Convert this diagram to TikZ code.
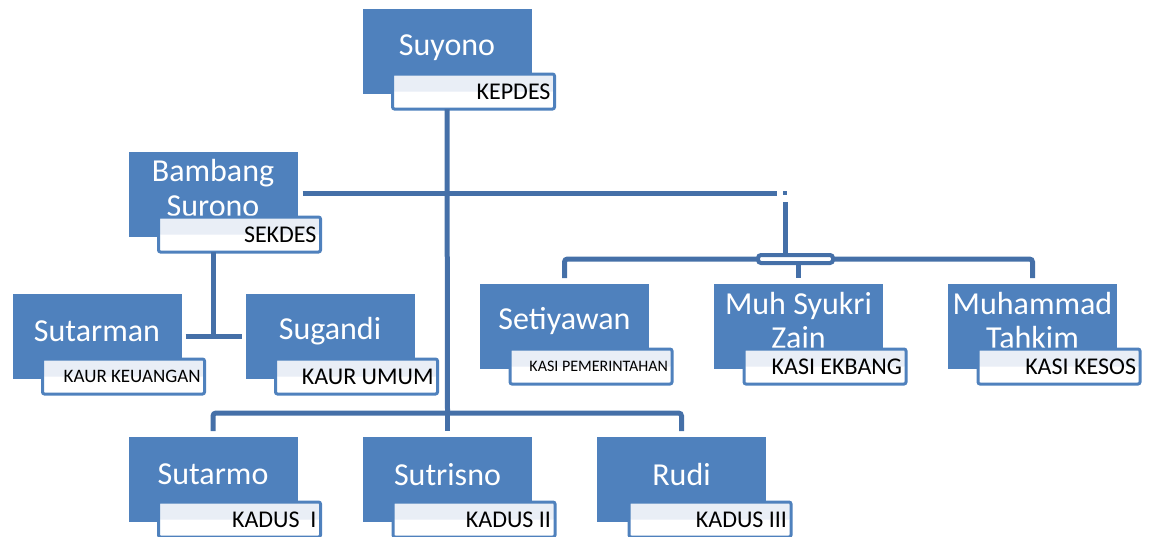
\documentclass[tikz,border=0pt]{standalone}
\usepackage{fontspec}
\setmainfont{Carlito}
\usepackage{tikz}

\definecolor{boxblue}{HTML}{4F81BD}
\definecolor{linkblue}{HTML}{4570A8}
\definecolor{tagtop}{HTML}{E9EEF6}

\tikzset{
    namebox/.style={rectangle, fill=boxblue, minimum width=169pt, minimum height=85pt, inner sep=0pt, outer sep=0pt},
    nametext/.style={text=white, align=center, inner sep=0pt, font=\fontsize{32}{35}\selectfont},
    tagbox/.style={rectangle, draw=boxblue, line width=3pt, rounded corners=2pt, fill=white,
        minimum height=35pt, text width=154pt, inner xsep=4pt, inner ysep=0pt, outer sep=0pt,
        align=flush right, anchor=north west, font=\fontsize{24}{26}\selectfont,
        path picture={\fill[tagtop] (path picture bounding box.north west) rectangle (path picture bounding box.east);}},
    hubbox/.style={rectangle, draw=linkblue, line width=4pt, fill=white, rounded corners=3pt,
        minimum width=75pt, minimum height=8pt, inner sep=0pt, outer sep=0pt},
    link/.style={draw=linkblue, line width=5pt},
}

\begin{document}
\begin{tikzpicture}[x=1pt, y=-1pt]
    \useasboundingbox (0,0) rectangle (1150,536);

    \node[namebox] (kepdes) at (447,51.5) {};
    \node[namebox] (sekdes) at (213,194.5) {};
    \node[namebox] (keuangan) at (97,336.5) {};
    \node[namebox] (umum) at (330,336.5) {};
    \node[namebox] (pemerintahan) at (564.5,326.5) {};
    \node[namebox] (ekbang) at (798.5,326.5) {};
    \node[namebox] (kesos) at (1032.5,326.5) {};
    \node[namebox] (kadusI) at (213,479.5) {};
    \node[namebox] (kadusII) at (447.5,479.5) {};
    \node[namebox] (kadusIII) at (681.5,479.5) {};

    \node[nametext] (kepdes-n) at ([yshift=4pt]kepdes.center) {Suyono};
    \node[nametext] (sekdes-n) at ([yshift=6pt]sekdes.center) {Bambang\\Surono};
    \node[nametext] (keuangan-n) at ([yshift=5pt]keuangan.center) {Sutarman};
    \node[nametext] (umum-n) at ([yshift=5pt]umum.center) {Sugandi};
    \node[nametext] (pemerintahan-n) at ([yshift=5pt]pemerintahan.center) {Setiyawan};
    \node[nametext] (ekbang-n) at ([yshift=6pt]ekbang.center) {Muh Syukri\\Zain};
    \node[nametext] (kesos-n) at ([yshift=6pt]kesos.center) {Muhammad\\Tahkim};
    \node[nametext] (kadusI-n) at ([yshift=5pt]kadusI.center) {Sutarmo};
    \node[nametext] (kadusII-n) at ([yshift=5pt]kadusII.center) {Sutrisno};
    \node[nametext] (kadusIII-n) at ([yshift=5pt]kadusIII.center) {Rudi};

    \node[tagbox] (kepdes-t) at ([xshift=30pt,yshift=-65pt]kepdes.north west) {KEPDES};
    \node[tagbox] (sekdes-t) at ([xshift=30pt,yshift=-65pt]sekdes.north west) {SEKDES};
    \node[tagbox, font=\fontsize{19}{21}\selectfont] (keuangan-t) at ([xshift=30pt,yshift=-65pt]keuangan.north west) {KAUR KEUANGAN};
    \node[tagbox] (umum-t) at ([xshift=30pt,yshift=-65pt]umum.north west) {KAUR UMUM};
    \node[tagbox, font=\fontsize{16}{18}\selectfont] (pemerintahan-t) at ([xshift=30pt,yshift=-65pt]pemerintahan.north west) {KASI PEMERINTAHAN};
    \node[tagbox] (ekbang-t) at ([xshift=30pt,yshift=-65pt]ekbang.north west) {KASI EKBANG};
    \node[tagbox] (kesos-t) at ([xshift=30pt,yshift=-65pt]kesos.north west) {KASI KESOS};
    \node[tagbox] (kadusI-t) at ([xshift=30pt,yshift=-65pt]kadusI.north west) {KADUS\ \ I};
    \node[tagbox] (kadusII-t) at ([xshift=30pt,yshift=-65pt]kadusII.north west) {KADUS II};
    \node[tagbox] (kadusIII-t) at ([xshift=32pt,yshift=-65pt]kadusIII.north west) {KADUS III};

    \node[hubbox] (hub) at (795.5,259) {};
    \coordinate (kbus) at (447.5,413);
    \coordinate (gap) at (785,193);

    \draw[link] (kepdes |- kepdes-t.south) -- (kbus);
    \draw[link, rounded corners=3pt] ([yshift=6pt]kadusI.north) |- (kbus) -| ([yshift=6pt]kadusIII.north);
    \draw[link] (kbus) -- ([yshift=6pt]kadusII.north);

    \draw[link] (sekdes |- sekdes-t.south) -- (sekdes |- keuangan.east);
    \draw[link] ([xshift=4pt]keuangan.east) -- ([xshift=-4pt]umum.west);

    \draw[link] ([xshift=5pt]sekdes.east |- gap) -- ([xshift=-8pt]gap);
    \fill[linkblue] ([xshift=-2pt,yshift=-2pt]gap) rectangle ([xshift=2pt,yshift=2pt]gap);
    \draw[link] ([yshift=-9pt]gap) -- (gap |- hub.north);

    \draw[link, rounded corners=3pt] (hub.west) -| ([yshift=6pt]pemerintahan.north);
    \draw[link, rounded corners=3pt] (hub.east) -| ([yshift=6pt]kesos.north);
    \draw[link] (hub.south -| ekbang) -- ([yshift=6pt]ekbang.north);
\end{tikzpicture}
\end{document}
